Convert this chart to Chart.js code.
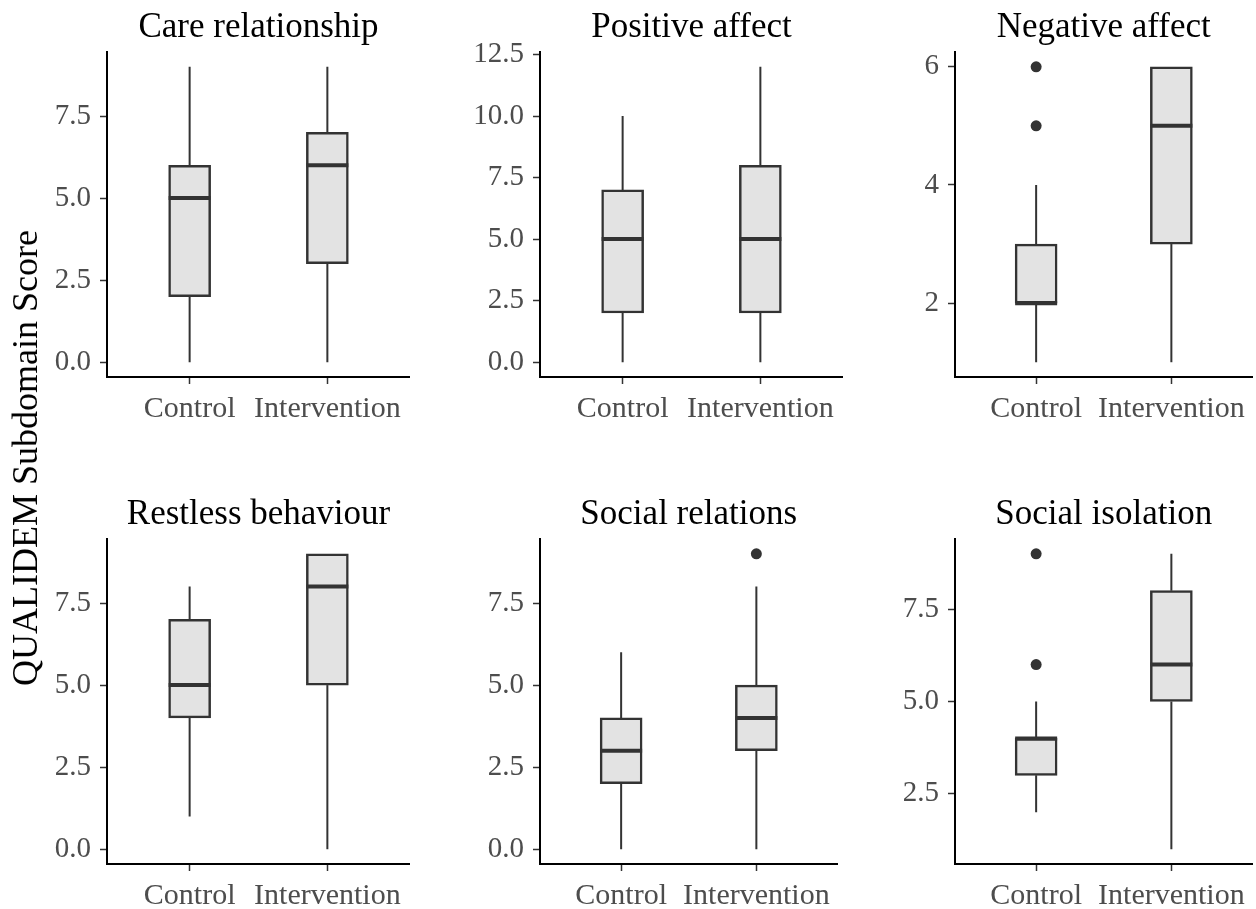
<!DOCTYPE html>
<html><head><meta charset="utf-8">
<script src="https://cdn.jsdelivr.net/npm/chart.js@4"></script>
<style>
body{margin:0;width:1256px;height:909px;overflow:hidden;background:#fff;position:relative;font-family:"Liberation Serif",serif;}
canvas{position:absolute;}
#ylab{position:absolute;left:25px;top:458px;transform:translate(-50%,-50%) rotate(-90deg);font-size:36px;white-space:nowrap;color:#000;z-index:5;}
</style></head><body>
<div id="ylab">QUALIDEM Subdomain Score</div>
<script>
const groups = ["Control", "Intervention"];
const panelTitles = ["Care relationship", "Positive affect", "Negative affect", "Restless behaviour", "Social relations", "Social isolation"];
const whiskerLow  = [[0, 0], [0, 0], [1, 1], [1, 0], [0, 0], [2, 1]];
const q1Values    = [[2, 3], [2, 2], [2, 3], [4, 5], [2, 3], [3, 5]];
const medians     = [[5, 6], [5, 5], [2, 5], [5, 8], [3, 4], [4, 6]];
const q3Values    = [[6, 7], [7, 8], [3, 6], [7, 9], [4, 5], [4, 8]];
const whiskerHigh = [[9, 9], [10, 12], [4, 6], [8, 9], [6, 8], [5, 9]];
const outliers    = [[[], []], [[], []], [[5, 6], []], [[], []], [[], [9]], [[6, 9], []]];
const yTickValues = [[0, 2.5, 5, 7.5], [0, 2.5, 5, 7.5, 10, 12.5], [2, 4, 6], [0, 2.5, 5, 7.5], [0, 2.5, 5, 7.5], [2.5, 5, 7.5]];
const yTickDecimals = [1, 1, 0, 1, 1, 1];

const plotLefts = [107, 540, 955];
const plotTops = [52, 539];
const plotBottoms = [377, 864];
const plotW = 303;
const yAxisW = 100, xAxisH = 60, titleH = 52;
const FONT = "Liberation Serif";
const DARK = "#333333";

const boxPlugin = {
  id: 'boxw',
  beforeDatasetsDraw(chart) {
    const o = chart.options.plugins.boxw;
    const xs = chart.scales.x, ys = chart.scales.y, ctx = chart.ctx;
    ctx.save();
    ctx.strokeStyle = DARK; ctx.lineWidth = 2;
    o.lo.forEach((lo, i) => {
      const x = xs.getPixelForValue(i + 1);
      ctx.beginPath();
      ctx.moveTo(x, ys.getPixelForValue(lo)); ctx.lineTo(x, ys.getPixelForValue(o.q1[i]));
      ctx.moveTo(x, ys.getPixelForValue(o.q3[i])); ctx.lineTo(x, ys.getPixelForValue(o.hi[i]));
      ctx.stroke();
    });
    ctx.restore();
  },
  afterDatasetsDraw(chart) {
    const o = chart.options.plugins.boxw;
    const ys = chart.scales.y, ctx = chart.ctx;
    const meta = chart.getDatasetMeta(0);
    ctx.save();
    ctx.strokeStyle = DARK; ctx.lineWidth = 4; ctx.lineCap = 'butt';
    o.med.forEach((m, i) => {
      const el = meta.data[i];
      const y = ys.getPixelForValue(m);
      ctx.beginPath();
      ctx.moveTo(el.x - el.width / 2, y); ctx.lineTo(el.x + el.width / 2, y);
      ctx.stroke();
    });
    ctx.restore();
  }
};

panelTitles.forEach((title, p) => {
  const col = p % 3, row = Math.floor(p / 3);
  const cv = document.createElement('canvas');
  const w = yAxisW + plotW;
  const h = titleH + (plotBottoms[row] - plotTops[row]) + xAxisH;
  cv.width = w; cv.height = h;
  cv.style.left = (plotLefts[col] - yAxisW) + 'px';
  cv.style.top = (plotTops[row] - titleH) + 'px';
  cv.style.width = w + 'px'; cv.style.height = h + 'px';
  document.body.appendChild(cv);

  const allVals = [].concat(whiskerLow[p], whiskerHigh[p], ...outliers[p]);
  const dmin = Math.min(...allVals), dmax = Math.max(...allVals);
  const pad = (dmax - dmin) * 0.05;

  const boxData = groups.map((g, i) => ({ x: i + 1, y: [q1Values[p][i], q3Values[p][i]] }));
  const outData = [];
  outliers[p].forEach((arr, i) => arr.forEach(v => outData.push({ x: i + 1, y: v })));

  new Chart(cv, {
    type: 'bar',
    data: {
      datasets: [
        { type: 'bar', data: boxData, backgroundColor: '#e3e3e3', borderColor: DARK, borderWidth: 2.5,
          borderSkipped: false, barThickness: 42, grouped: false },
        { type: 'scatter', data: outData, pointRadius: 5.5, pointBackgroundColor: DARK, pointBorderWidth: 0 }
      ]
    },
    options: {
      responsive: false, animation: false, devicePixelRatio: 1,
      layout: { padding: 0 },
      plugins: {
        legend: { display: false }, tooltip: { enabled: false },
        title: { display: true, text: title, color: '#000', fullSize: false,
          font: { family: FONT, size: 35, weight: 'normal' }, padding: { top: 7, bottom: 3 } },
        boxw: { lo: whiskerLow[p], q1: q1Values[p], med: medians[p], q3: q3Values[p], hi: whiskerHigh[p] }
      },
      scales: {
        x: { type: 'linear', min: 0.4, max: 2.6, offset: false,
          afterBuildTicks: s => { s.ticks = groups.map((g, i) => ({ value: i + 1 })); },
          afterFit: s => { s.height = xAxisH; },
          ticks: { callback: v => groups[v - 1], color: '#4d4d4d', font: { family: FONT, size: 30 }, padding: 7, maxRotation: 0, autoSkip: false },
          grid: { offset: false, drawOnChartArea: false, drawTicks: true, tickLength: 7, tickColor: DARK, tickWidth: 1.5 },
          border: { display: true, color: '#000', width: 2 } },
        y: { type: 'linear', min: dmin - pad, max: dmax + pad,
          afterBuildTicks: s => { s.ticks = yTickValues[p].map(v => ({ value: v })); },
          afterFit: s => { s.width = yAxisW; },
          ticks: { callback: v => v.toFixed(yTickDecimals[p]), color: '#4d4d4d', font: { family: FONT, size: 29 }, padding: 9, autoSkip: false },
          grid: { offset: false, drawOnChartArea: false, drawTicks: true, tickLength: 7, tickColor: DARK, tickWidth: 1.5 },
          border: { display: true, color: '#000', width: 2 } }
      }
    },
    plugins: [boxPlugin]
  });
});
</script>
</body></html>
